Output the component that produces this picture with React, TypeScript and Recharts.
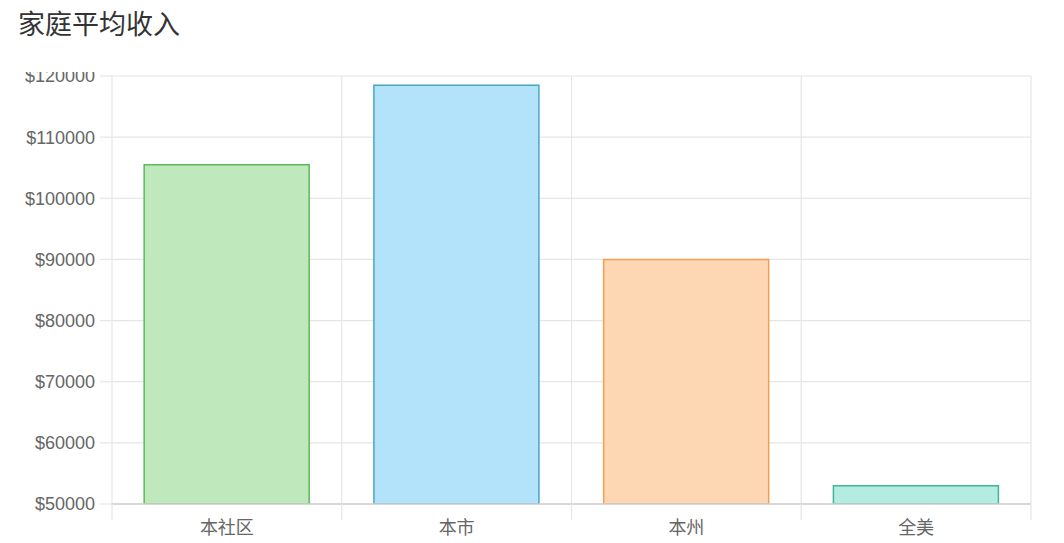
import React from "react";
import { BarChart, Bar, XAxis, YAxis, CartesianGrid, Cell } from "recharts";

const categories = ["本社区", "本市", "本州", "全美"];
const incomeValues = [105500, 118500, 90000, 53000];
const yTicks = [50000, 60000, 70000, 80000, 90000, 100000, 110000, 120000];
const fillColors = ["#bfe9bc", "#b3e3fb", "#fdd6b4", "#b3ece0"];
const strokeColors = ["#5cb85c", "#45a8bf", "#f0a04e", "#44b39a"];

const data = categories.map((name, i) => ({ name, value: incomeValues[i] }));

const FONT = "'Liberation Sans', Arial, 'Noto Sans CJK SC', sans-serif";
const GRID = "#e6e6e6";
const X_TICK_MARGIN = 17;
const X_TICK_LEN = 16;

const CategoryTick = (props: any) => {
  const { x, y, payload, index, visibleTicksCount, width } = props;
  const band = width / visibleTicksCount;
  const axisY = y - X_TICK_MARGIN;
  const left = x - band / 2;
  const right = x + band / 2;
  return (
    <g>
      <line x1={left} x2={left} y1={axisY} y2={axisY + X_TICK_LEN} stroke={GRID} strokeWidth={1.2} />
      {index === visibleTicksCount - 1 && (
        <line x1={right} x2={right} y1={axisY} y2={axisY + X_TICK_LEN} stroke={GRID} strokeWidth={1.2} />
      )}
      <text
        x={x}
        y={y}
        dy="0.71em"
        textAnchor="middle"
        fill="#666"
        fontSize={18}
        fontFamily={FONT}
      >
        {payload.value}
      </text>
    </g>
  );
};

export default function App() {
  return (
    <div
      style={{
        position: "absolute",
        left: 0,
        top: 0,
        width: 1064,
        height: 543,
        background: "#fff",
        overflow: "hidden",
        fontFamily: FONT,
      }}
    >
      <div
        style={{
          position: "absolute",
          left: 18,
          top: 5,
          fontSize: 27,
          color: "#333",
          fontFamily: "'Noto Sans CJK SC', sans-serif",
          lineHeight: "36px",
        }}
      >
        家庭平均收入
      </div>
      <div
        style={{
          position: "absolute",
          left: 0,
          top: 72,
          width: 1064,
          height: 471,
          overflow: "hidden",
        }}
      >
        <div style={{ position: "absolute", left: 0, top: -72 }}>
          <BarChart
            width={1064}
            height={543}
            data={data}
            margin={{ top: 76, right: 33, bottom: 0, left: 0 }}
            barCategoryGap="14%"
          >
            <CartesianGrid
              stroke={GRID}
              strokeWidth={1.2}
              verticalCoordinatesGenerator={({ offset }: any) =>
                [0, 1, 2, 3, 4].map((i) => offset.left + (i * offset.width) / 4)
              }
            />
            <XAxis
              dataKey="name"
              height={39}
              tickLine={false}
              tickSize={0}
              tickMargin={X_TICK_MARGIN}
              interval={0}
              axisLine={{ stroke: "#cfcfcf", strokeWidth: 1.5 }}
              tick={CategoryTick}
            />
            <YAxis
              width={112}
              domain={[50000, 120000]}
              ticks={yTicks}
              interval={0}
              allowDataOverflow
              axisLine={false}
              tickSize={12}
              tickMargin={5}
              tickLine={{ stroke: GRID, strokeWidth: 1.2 }}
              tickFormatter={(v: number) => `$${v}`}
              tick={{ fill: "#666", fontSize: 18, fontFamily: FONT }}
            />
            <Bar dataKey="value" isAnimationActive={false} strokeWidth={1.5}>
              {data.map((d, i) => (
                <Cell key={d.name} fill={fillColors[i]} stroke={strokeColors[i]} />
              ))}
            </Bar>
          </BarChart>
        </div>
      </div>
    </div>
  );
}
